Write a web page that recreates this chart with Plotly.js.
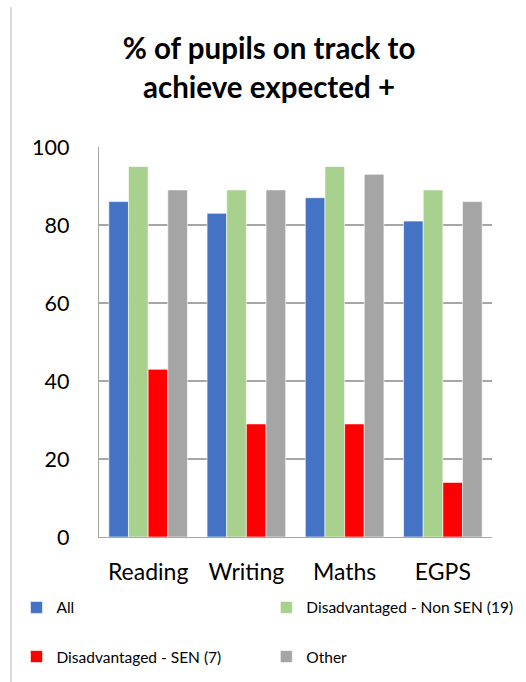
<!DOCTYPE html>
<html><head><meta charset="utf-8">
<script src="https://cdn.plot.ly/plotly-3.0.1.min.js"></script>
<style>html,body{margin:0;padding:0;background:#fff}#c{width:526px;height:682px}</style>
</head><body><div id="c"></div>
<script>
const categories = ['Reading', 'Writing', 'Maths', 'EGPS'];
const seriesNames = ['All', 'Disadvantaged - Non SEN (19)', 'Disadvantaged - SEN (7)', 'Other'];
const allVals = [86, 83, 87, 81];
const nonSenVals = [95, 89, 95, 89];
const senVals = [43, 29, 29, 14];
const otherVals = [89, 89, 93, 86];
const colors = ['#4472C4', '#A9D18E', '#FF0000', '#A5A5A5'];
const yTicks = [0, 20, 40, 60, 80, 100];

const FONT = 'Lato, "Open Sans", sans-serif';
const vals = [allVals, nonSenVals, senVals, otherVals];
const legends = ['legend', 'legend2', 'legend', 'legend2'];
const traces = vals.map((v, i) => ({
  type: 'bar', x: categories, y: v, name: seriesNames[i],
  marker: {color: colors[i], line: {color: '#ffffff', width: 0.6}},
  legend: legends[i], legendgroup: 'g' + i, hoverinfo: 'skip'
}));

const legFont = {family: FONT, size: 15.5, color: '#000'};
const layout = {
  width: 526, height: 682,
  margin: {l: 99, r: 34, t: 147, b: 145, autoexpand: false},
  paper_bgcolor: '#fff', plot_bgcolor: '#fff',
  font: {family: FONT, color: '#000'},
  title: {text: '<b>% of pupils on track to<br>achieve expected +</b>',
          font: {family: FONT, size: 29.5, color: '#000'},
          x: 0.5114, xanchor: 'center', y: 0.913, yanchor: 'middle', xref: 'container', yref: 'container'},
  barmode: 'group', bargap: 0.2, bargroupgap: 0,
  xaxis: {type: 'category', showline: true, linecolor: '#a6a6a6', linewidth: 1.3,
          ticks: '', tickfont: {family: FONT, size: 23, color: '#000'},
          ticklabelstandoff: 14, fixedrange: true},
  yaxis: {range: [0, 100], tickvals: yTicks, ticktext: yTicks.map(String),
          showgrid: true, gridcolor: '#a6a6a6', gridwidth: 1.2,
          showline: true, linecolor: '#a6a6a6', linewidth: 1.3,
          ticks: '', tickfont: {family: FONT, size: 21.5, color: '#000'},
          ticklabelstandoff: 24, zeroline: false, fixedrange: true},
  legend: {orientation: 'v', x: -0.21, xanchor: 'left', y: -0.138, yanchor: 'top',
           tracegroupgap: 26, font: legFont, bgcolor: 'rgba(0,0,0,0)'},
  legend2: {orientation: 'v', x: 0.4258, xanchor: 'left', y: -0.138, yanchor: 'top',
           tracegroupgap: 26, font: legFont, bgcolor: 'rgba(0,0,0,0)'},
  shapes: [{type: 'line', xref: 'paper', yref: 'paper',
            x0: -0.2239, x1: -0.2239, y0: 1.359, y1: -0.375,
            line: {color: '#c6c6c6', width: 1.3}}],
  showlegend: true
};
Plotly.newPlot('c', traces, layout, {displayModeBar: false, staticPlot: true});
</script></body></html>
